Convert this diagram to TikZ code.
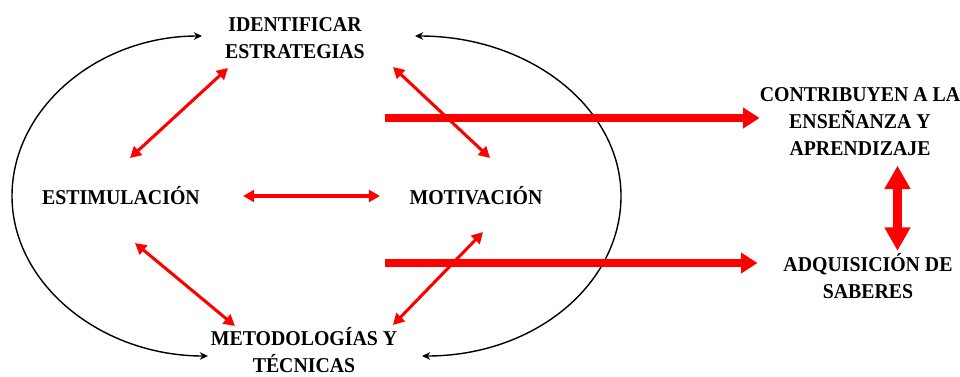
\documentclass[tikz,border=0pt]{standalone}
\usepackage{fontspec}
\setmainfont{Liberation Serif}[FakeStretch=0.94]
\usetikzlibrary{arrows.meta}

\tikzset{
  lbl/.style={font=\bfseries\fontsize{18}{23}\selectfont, align=center, inner sep=0pt},
  dbl/.style={red, line width=2.6pt, {Triangle[length=9.5pt,width=10pt]}-{Triangle[length=9.5pt,width=10pt]}},
  fat/.style={red, line width=6pt, -{Triangle[length=14pt,width=17pt]}},
  vfat/.style={red, line width=8pt, {Triangle[length=20pt,width=21pt]}-{Triangle[length=20pt,width=21pt]}},
  cycarc/.style={black, line width=1.2pt, {Stealth[length=7pt,width=6.5pt]}-{Stealth[length=7pt,width=6.5pt]}},
}

\begin{document}
\begin{tikzpicture}[x=0.3mm, y=-0.3mm]
\useasboundingbox (0,0) rectangle (960,376);

\node[lbl] (idest) at (295,38) {IDENTIFICAR\\ESTRATEGIAS};
\node[lbl] (estim) at (121,196) {ESTIMULACIÓN};
\node[lbl] (motiv) at (476,196) {MOTIVACIÓN};
\node[lbl] (metod) at (304,350) {METODOLOGÍAS Y\\TÉCNICAS};
\node[lbl] (contrib) at (860,122) {CONTRIBUYEN A LA\\ENSEÑANZA Y\\APRENDIZAJE};
\node[lbl] (adquis) at (868,276) {ADQUISICIÓN DE\\SABERES};

% cycle round the four
\draw[cycarc] ([shift={(-93,-2)}]idest.center) .. controls (98,36) and (12,108) .. (12,196)
  .. controls (12,284) and (101,356) .. ([shift={(-96,6)}]metod.center);
\draw[cycarc] ([shift={(120,-2)}]idest.center) .. controls (530,36) and (621,108) .. (621,196)
  .. controls (621,284) and (535,356) .. ([shift={(118,6)}]metod.center);

\draw[dbl] ([shift={(-67,30)}]idest.center) -- ([shift={(9,-38)}]estim.center);
\draw[dbl] ([shift={(98,29)}]idest.center) -- ([shift={(14,-38)}]motiv.center);
\draw[dbl] ([shift={(122,0)}]estim.center) -- ([shift={(-96,0)}]motiv.center);
\draw[dbl] ([shift={(14,47)}]estim.center) -- ([shift={(-69,-24)}]metod.center);
\draw[dbl] ([shift={(7,36)}]motiv.center) -- ([shift={(89,-25)}]metod.center);

\coordinate (t1) at (385,118);
\coordinate (t2) at (385,263);
\draw[fat] (t1) -- (contrib.west |- t1);
\draw[fat] (t2) -- ([xshift=-22]adquis.west |- t2);
\draw[vfat] ([xshift=32,yshift=-8pt]contrib.south) -- ([xshift=32,yshift=2pt]contrib.south |- adquis.north);
\end{tikzpicture}
\end{document}
